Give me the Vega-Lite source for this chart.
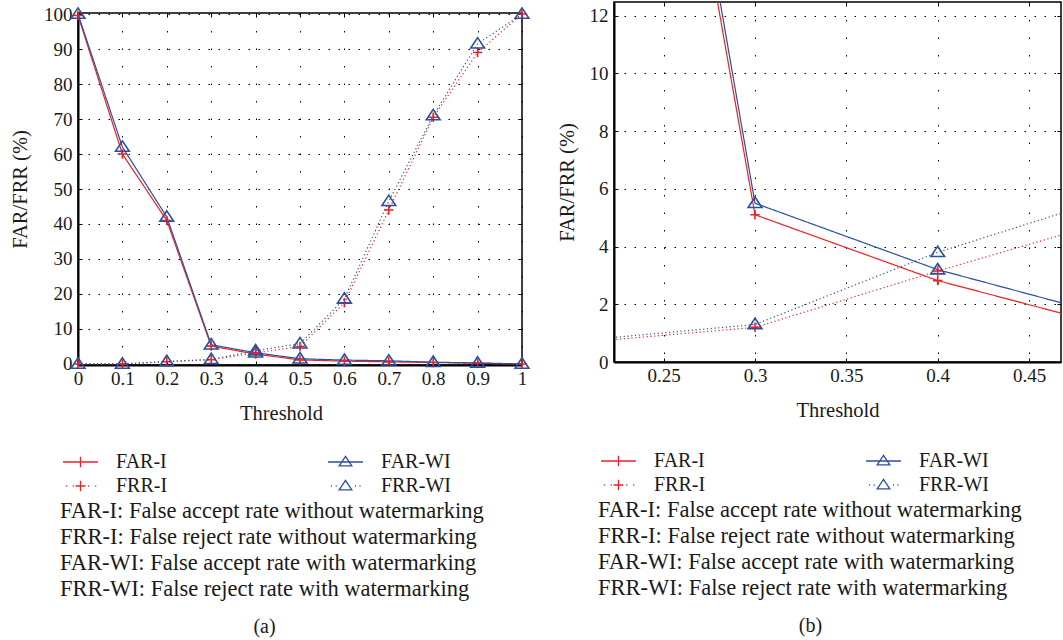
{
  "$schema": "https://vega.github.io/schema/vega-lite/v6.json",
  "padding": {"left": 9, "top": 0, "right": 0, "bottom": 0},
  "background": "white",
  "spacing": 22,
  "config": {
    "font": "Liberation Serif",
    "view": {"stroke": "black", "strokeWidth": 1.5},
    "axis": {
      "labelFont": "Liberation Serif", "labelFontSize": 19, "labelColor": "#1a1a1a", "labelFlush": false,
      "titleFont": "Liberation Serif", "titleFontSize": 20.5, "titleFontWeight": "normal", "titleColor": "#1a1a1a",
      "domainColor": "black", "domainWidth": 2,
      "tickColor": "black", "tickWidth": 1, "tickSize": -4,
      "gridColor": "black", "gridWidth": 1, "gridOpacity": 1
    },
    "legend": {
      "labelFont": "Liberation Serif", "titleFont": "Liberation Serif"
    },
    "title": {"font": "Liberation Serif", "fontSize": 20, "fontWeight": "normal", "color": "#1a1a1a"}
  },
  "datasets": {
    "rates": [
      {"threshold": 0, "series": "FAR-I", "value": 99.6},
      {"threshold": 0.1, "series": "FAR-I", "value": 60},
      {"threshold": 0.2, "series": "FAR-I", "value": 41},
      {"threshold": 0.3, "series": "FAR-I", "value": 5.1},
      {"threshold": 0.4, "series": "FAR-I", "value": 2.82},
      {"threshold": 0.5, "series": "FAR-I", "value": 1.15},
      {"threshold": 0.6, "series": "FAR-I", "value": 0.8},
      {"threshold": 0.7, "series": "FAR-I", "value": 0.6},
      {"threshold": 0.8, "series": "FAR-I", "value": 0.4},
      {"threshold": 0.9, "series": "FAR-I", "value": 0.2},
      {"threshold": 1, "series": "FAR-I", "value": 0},
      {"threshold": 0, "series": "FAR-WI", "value": 100},
      {"threshold": 0.1, "series": "FAR-WI", "value": 62},
      {"threshold": 0.2, "series": "FAR-WI", "value": 42},
      {"threshold": 0.3, "series": "FAR-WI", "value": 5.5},
      {"threshold": 0.4, "series": "FAR-WI", "value": 3.2},
      {"threshold": 0.5, "series": "FAR-WI", "value": 1.5},
      {"threshold": 0.6, "series": "FAR-WI", "value": 1.1},
      {"threshold": 0.7, "series": "FAR-WI", "value": 0.9},
      {"threshold": 0.8, "series": "FAR-WI", "value": 0.5},
      {"threshold": 0.9, "series": "FAR-WI", "value": 0.3},
      {"threshold": 1, "series": "FAR-WI", "value": 0},
      {"threshold": 0, "series": "FRR-I", "value": 0},
      {"threshold": 0.1, "series": "FRR-I", "value": 0},
      {"threshold": 0.2, "series": "FRR-I", "value": 0.65},
      {"threshold": 0.3, "series": "FRR-I", "value": 1.2},
      {"threshold": 0.4, "series": "FRR-I", "value": 3.15},
      {"threshold": 0.5, "series": "FRR-I", "value": 5.0},
      {"threshold": 0.6, "series": "FRR-I", "value": 17.5},
      {"threshold": 0.7, "series": "FRR-I", "value": 44},
      {"threshold": 0.8, "series": "FRR-I", "value": 70.5},
      {"threshold": 0.9, "series": "FRR-I", "value": 89},
      {"threshold": 1, "series": "FRR-I", "value": 100},
      {"threshold": 0, "series": "FRR-WI", "value": 0},
      {"threshold": 0.1, "series": "FRR-WI", "value": 0},
      {"threshold": 0.2, "series": "FRR-WI", "value": 0.72},
      {"threshold": 0.3, "series": "FRR-WI", "value": 1.3},
      {"threshold": 0.4, "series": "FRR-WI", "value": 3.8},
      {"threshold": 0.5, "series": "FRR-WI", "value": 5.8},
      {"threshold": 0.6, "series": "FRR-WI", "value": 18.6},
      {"threshold": 0.7, "series": "FRR-WI", "value": 46.5},
      {"threshold": 0.8, "series": "FRR-WI", "value": 71},
      {"threshold": 0.9, "series": "FRR-WI", "value": 91.5},
      {"threshold": 1, "series": "FRR-WI", "value": 100}
    ]
  },
  "resolve": {
    "scale": {"x": "independent", "y": "independent", "color": "independent", "shape": "independent", "strokeDash": "independent"},
    "legend": {"color": "independent", "shape": "independent", "strokeDash": "independent"}
  },
  "hconcat": [
    {
      "spacing": -1,
      "resolve": {
        "scale": {"x": "independent", "y": "independent", "color": "independent", "shape": "independent", "strokeDash": "independent"},
        "legend": {"color": "independent", "shape": "independent", "strokeDash": "independent"}
      },
      "vconcat": [
        {
          "width": 444,
          "height": 1,
          "data": {"values": []},
          "mark": {"type": "point", "opacity": 0},
          "view": {"stroke": null}
        },
        {
          "width": 444,
          "height": 352,
          "data": {"name": "rates"},
          "title": {"text": "(a)", "orient": "bottom", "anchor": "middle", "frame": "bounds", "offset": 16, "dx": -7},
          "resolve": {"scale": {"color": "independent", "shape": "independent"}},
          "layer": [
            {
              "mark": {"type": "line", "strokeWidth": 1.2},
              "encoding": {
                "x": {"field": "threshold", "type": "quantitative",
                  "scale": {"domain": [0, 1], "nice": false, "zero": false},
                  "axis": {"orient": "bottom", "title": "Threshold", "values": [0, 0.1, 0.2, 0.3, 0.4, 0.5, 0.6, 0.7, 0.8, 0.9, 1], "format": "~g",
                    "grid": true, "gridDash": [1.5, 16], "labelPadding": 8, "minExtent": 27, "maxExtent": 27, "titlePadding": 11, "titleX": 203}},
                "y": {"field": "value", "type": "quantitative",
                  "scale": {"domain": [-0.3, 100.3], "nice": false, "zero": false},
                  "axis": {"orient": "left", "title": "FAR/FRR (%)", "values": [0, 10, 20, 30, 40, 50, 60, 70, 80, 90, 100],
                    "grid": true, "gridDash": [1.5, 8.5], "labelPadding": 10, "minExtent": 40, "maxExtent": 40, "titlePadding": 8}},
                "color": {"field": "series", "type": "nominal",
                  "scale": {"domain": ["FAR-I", "FAR-WI", "FRR-I", "FRR-WI"], "range": ["#ed2024", "#2c4f9e", "#ed2024", "#2c4f9e"]}, "legend": null},
                "strokeDash": {"field": "series", "type": "nominal",
                  "scale": {"domain": ["FAR-I", "FAR-WI", "FRR-I", "FRR-WI"], "range": [[1, 0], [1, 0], [1.2, 2.6], [1.2, 2.6]]}, "legend": null}
              }
            },
            {
              "mark": {"type": "point", "filled": false, "strokeWidth": 1.6, "size": 90, "opacity": 1},
              "encoding": {
                "x": {"field": "threshold", "type": "quantitative",
                  "axis": {"orient": "top", "title": null, "labels": false, "grid": false, "domain": false, "values": [0, 0.1, 0.2, 0.3, 0.4, 0.5, 0.6, 0.7, 0.8, 0.9, 1], "minExtent": 10, "maxExtent": 10}},
                "y": {"field": "value", "type": "quantitative",
                  "axis": {"orient": "right", "title": null, "labels": false, "grid": false, "domain": false, "values": [0, 10, 20, 30, 40, 50, 60, 70, 80, 90, 100], "minExtent": 0, "maxExtent": 0}},
                "color": {"field": "series", "type": "nominal",
                  "scale": {"domain": ["FAR-I", "FAR-WI", "FRR-I", "FRR-WI"], "range": ["#ed2024", "#2c4f9e", "#ed2024", "#2c4f9e"]}, "legend": null},
                "shape": {"field": "series", "type": "nominal",
                  "scale": {"domain": ["FAR-I", "FAR-WI", "FRR-I", "FRR-WI"], "range": ["M-1,0H1M0,-1V1", "M0,-1.3L1.45,0.9H-1.45Z", "M-1,0H1M0,-1V1", "M0,-1.3L1.45,0.9H-1.45Z"]}, "legend": null}
              }
            },
            {
              "mark": {"type": "point", "filled": false, "opacity": 0},
              "encoding": {
                "x": {"field": "threshold", "type": "quantitative", "axis": null},
                "y": {"field": "value", "type": "quantitative", "axis": null},
                "color": {"field": "series", "type": "nominal",
                  "scale": {"domain": ["FAR-I", "FRR-I", "FAR-WI", "FRR-WI"], "range": ["#ed2024", "#ed2024", "#2c4f9e", "#2c4f9e"]},
                  "legend": {"orient": "none", "legendX": -18, "legendY": 439, "columns": 2, "columnPadding": 157, "rowPadding": 4, "padding": 0,
                    "symbolSize": 196, "symbolStrokeWidth": 1.3, "symbolOpacity": 1, "labelFontSize": 20, "labelColor": "#1a1a1a", "labelOffset": 36, "labelLimit": 300,
                    "title": ["FAR-I: False accept rate without watermarking", "FRR-I: False reject rate without watermarking", "FAR-WI: False accept rate with watermarking", "FRR-WI: False reject rate with watermarking"],
                    "titleOrient": "bottom", "titleAnchor": "start", "titleAlign": "left", "titleFontSize": 22.5, "titleFontWeight": "normal", "titleColor": "#1a1a1a", "titleLineHeight": 26, "titlePadding": 4, "titleLimit": 1000}},
                "shape": {"field": "series", "type": "nominal",
                  "scale": {"domain": ["FAR-I", "FRR-I", "FAR-WI", "FRR-WI"], "range": [
                    "M-1,0H4M1.5,-0.75V0.75",
                    "M-0.6,0h0.15M0.4,0h0.15M2.6,0h0.15M3.6,0h0.15M0.8,0H2.2M1.5,-0.75V0.75",
                    "M-1,0H4M1.5,-0.8L2.4,0.55H0.6Z",
                    "M-0.6,0h0.15M0.1,0h0.15M2.85,0h0.15M3.5,0h0.15M1.5,-0.8L2.4,0.55H0.6Z"]},
                  "legend": {"orient": "none", "legendX": -18, "legendY": 439, "columns": 2, "columnPadding": 157, "rowPadding": 4, "padding": 0,
                    "symbolSize": 196, "symbolStrokeWidth": 1.3, "symbolOpacity": 1, "labelFontSize": 20, "labelColor": "#1a1a1a", "labelOffset": 36, "labelLimit": 300,
                    "title": ["FAR-I: False accept rate without watermarking", "FRR-I: False reject rate without watermarking", "FAR-WI: False accept rate with watermarking", "FRR-WI: False reject rate with watermarking"],
                    "titleOrient": "bottom", "titleAnchor": "start", "titleAlign": "left", "titleFontSize": 22.5, "titleFontWeight": "normal", "titleColor": "#1a1a1a", "titleLineHeight": 26, "titlePadding": 4, "titleLimit": 1000}}
              }
            }
          ]
        }
      ]
    },
    {
      "width": 447,
      "height": 360,
      "data": {"name": "rates"},
      "title": {"text": "(b)", "orient": "bottom", "anchor": "middle", "frame": "group", "dx": -27, "offset": 16},
      "resolve": {"scale": {"color": "independent", "shape": "independent"}},
      "layer": [
        {
          "mark": {"type": "line", "strokeWidth": 1.2, "clip": true},
          "encoding": {
            "x": {"field": "threshold", "type": "quantitative",
              "scale": {"domain": [0.2228, 0.4675], "nice": false, "zero": false},
              "axis": {"orient": "bottom", "title": "Threshold", "values": [0.25, 0.3, 0.35, 0.4, 0.45], "format": "~g",
                "grid": true, "gridDash": [1.5, 16], "labelPadding": 8, "minExtent": 27, "maxExtent": 27, "titlePadding": 11}},
            "y": {"field": "value", "type": "quantitative",
              "scale": {"domain": [0, 12.47], "nice": false, "zero": false},
              "axis": {"orient": "left", "title": "FAR/FRR (%)", "values": [0, 2, 4, 6, 8, 10, 12],
                "grid": true, "gridDash": [1.5, 8.5], "labelPadding": 10, "minExtent": 30, "maxExtent": 30, "titlePadding": 7}},
            "color": {"field": "series", "type": "nominal",
              "scale": {"domain": ["FAR-I", "FAR-WI", "FRR-I", "FRR-WI"], "range": ["#ed2024", "#2c4f9e", "#ed2024", "#2c4f9e"]}, "legend": null},
            "strokeDash": {"field": "series", "type": "nominal",
              "scale": {"domain": ["FAR-I", "FAR-WI", "FRR-I", "FRR-WI"], "range": [[1, 0], [1, 0], [1.2, 2.6], [1.2, 2.6]]}, "legend": null}
          }
        },
        {
          "mark": {"type": "point", "filled": false, "strokeWidth": 1.6, "size": 90, "opacity": 1, "clip": true},
          "encoding": {
            "x": {"field": "threshold", "type": "quantitative",
              "axis": {"orient": "top", "title": null, "labels": false, "grid": false, "domain": false, "values": [0.25, 0.3, 0.35, 0.4, 0.45], "minExtent": 0, "maxExtent": 0}},
            "y": {"field": "value", "type": "quantitative",
              "axis": {"orient": "right", "title": null, "labels": false, "grid": false, "domain": false, "values": [0, 2, 4, 6, 8, 10, 12], "minExtent": 0, "maxExtent": 0}},
            "color": {"field": "series", "type": "nominal",
              "scale": {"domain": ["FAR-I", "FAR-WI", "FRR-I", "FRR-WI"], "range": ["#ed2024", "#2c4f9e", "#ed2024", "#2c4f9e"]}, "legend": null},
            "shape": {"field": "series", "type": "nominal",
              "scale": {"domain": ["FAR-I", "FAR-WI", "FRR-I", "FRR-WI"], "range": ["M-1,0H1M0,-1V1", "M0,-1.3L1.45,0.9H-1.45Z", "M-1,0H1M0,-1V1", "M0,-1.3L1.45,0.9H-1.45Z"]}, "legend": null}
          }
        },
        {
          "mark": {"type": "point", "filled": false, "opacity": 0, "clip": true},
          "encoding": {
            "x": {"field": "threshold", "type": "quantitative", "axis": null},
            "y": {"field": "value", "type": "quantitative", "axis": null},
            "color": {"field": "series", "type": "nominal",
              "scale": {"domain": ["FAR-I", "FRR-I", "FAR-WI", "FRR-WI"], "range": ["#ed2024", "#ed2024", "#2c4f9e", "#2c4f9e"]},
              "legend": {"orient": "none", "legendX": -16, "legendY": 449, "columns": 2, "columnPadding": 157, "rowPadding": 4, "padding": 0,
                "symbolSize": 196, "symbolStrokeWidth": 1.3, "symbolOpacity": 1, "labelFontSize": 20, "labelColor": "#1a1a1a", "labelOffset": 36, "labelLimit": 300,
                "title": ["FAR-I: False accept rate without watermarking", "FRR-I: False reject rate without watermarking", "FAR-WI: False accept rate with watermarking", "FRR-WI: False reject rate with watermarking"],
                "titleOrient": "bottom", "titleAnchor": "start", "titleAlign": "left", "titleFontSize": 22.5, "titleFontWeight": "normal", "titleColor": "#1a1a1a", "titleLineHeight": 26, "titlePadding": 4, "titleLimit": 1000}},
            "shape": {"field": "series", "type": "nominal",
              "scale": {"domain": ["FAR-I", "FRR-I", "FAR-WI", "FRR-WI"], "range": [
                "M-1,0H4M1.5,-0.75V0.75",
                "M-0.6,0h0.15M0.4,0h0.15M2.6,0h0.15M3.6,0h0.15M0.8,0H2.2M1.5,-0.75V0.75",
                "M-1,0H4M1.5,-0.8L2.4,0.55H0.6Z",
                "M-0.6,0h0.15M0.1,0h0.15M2.85,0h0.15M3.5,0h0.15M1.5,-0.8L2.4,0.55H0.6Z"]},
              "legend": {"orient": "none", "legendX": -16, "legendY": 449, "columns": 2, "columnPadding": 157, "rowPadding": 4, "padding": 0,
                "symbolSize": 196, "symbolStrokeWidth": 1.3, "symbolOpacity": 1, "labelFontSize": 20, "labelColor": "#1a1a1a", "labelOffset": 36, "labelLimit": 300,
                "title": ["FAR-I: False accept rate without watermarking", "FRR-I: False reject rate without watermarking", "FAR-WI: False accept rate with watermarking", "FRR-WI: False reject rate with watermarking"],
                "titleOrient": "bottom", "titleAnchor": "start", "titleAlign": "left", "titleFontSize": 22.5, "titleFontWeight": "normal", "titleColor": "#1a1a1a", "titleLineHeight": 26, "titlePadding": 4, "titleLimit": 1000}}
          }
        }
      ]
    }
  ]
}
